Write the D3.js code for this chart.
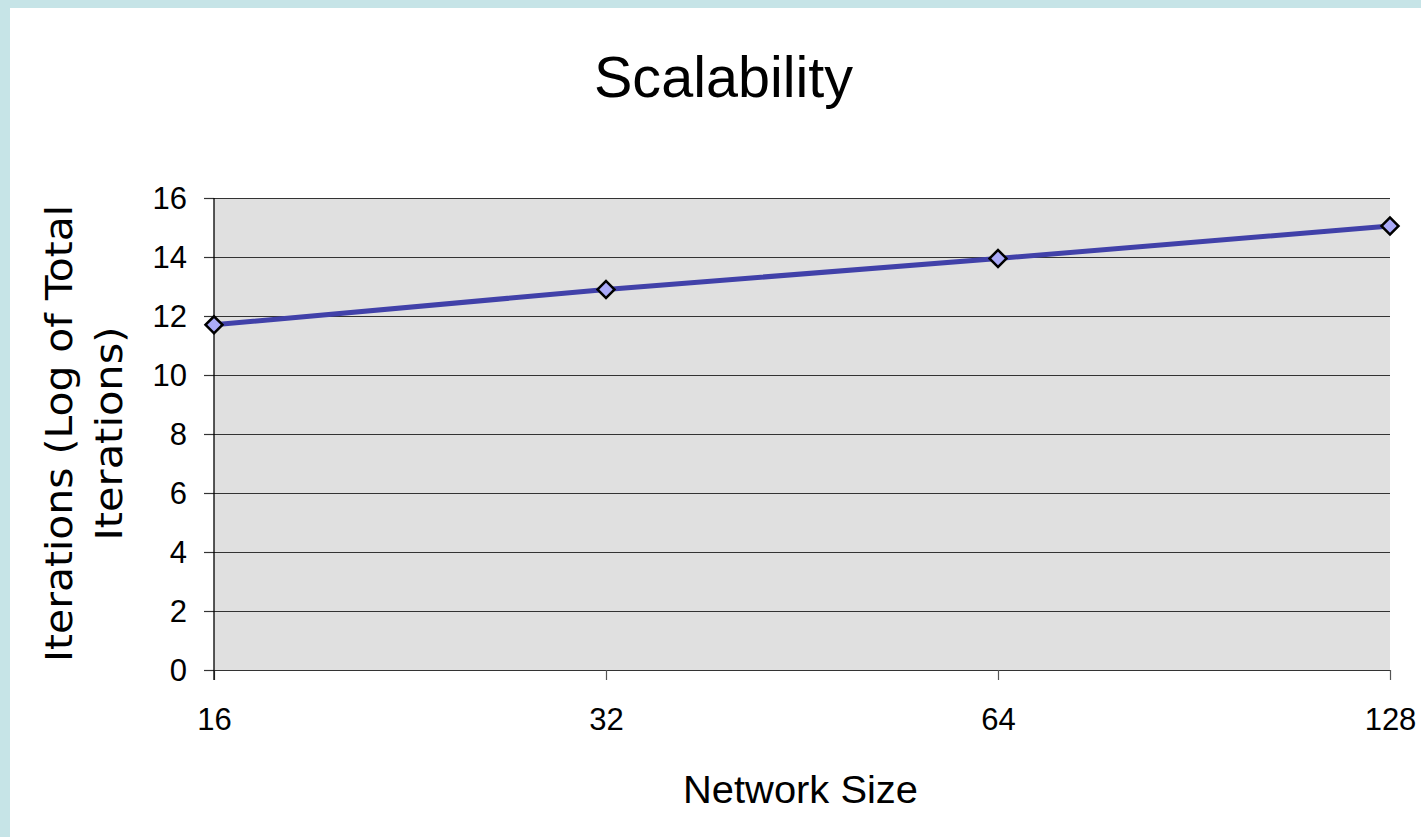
<!DOCTYPE html>
<html>
<head>
<meta charset="utf-8">
<script src="https://cdn.jsdelivr.net/npm/d3@7"></script>
<style>
  html, body { margin: 0; padding: 0; background: #ffffff; }
  svg { display: block; }
</style>
</head>
<body>
<script>
// ---- data ----
const categories = ["16", "32", "64", "128"];
const iterations = [11.7, 12.9, 13.95, 15.05];
const yTicks = [0, 2, 4, 6, 8, 10, 12, 14, 16];
const titleText = "Scalability";
const xLabelText = "Network Size";
const yLabelLines = ["Iterations (Log of Total", "Iterations)"];

(function () {
const W = 1421, H = 837;
const svg = d3.select("body").append("svg").attr("width", W).attr("height", H);

// frame band
svg.append("rect").attr("x", 0).attr("y", 0).attr("width", W).attr("height", H).attr("fill", "#c6e4e7");
svg.append("rect").attr("x", 10).attr("y", 8).attr("width", W - 10).attr("height", H - 8).attr("fill", "#ffffff");

const pLeft = 214, pRight = 1390, pTop = 198, pBottom = 670;
const x = d3.scalePoint().domain(categories).range([pLeft, pRight]);
const y = d3.scaleLinear().domain([0, 16]).range([pBottom, pTop]);

// plot background
svg.append("rect").attr("x", pLeft).attr("y", pTop).attr("width", pRight - pLeft).attr("height", pBottom - pTop)
  .attr("fill", "#e0e0e0");

// y axis ticks, labels and gridlines
const gyy = svg.append("g").attr("transform", `translate(${pLeft},0)`)
  .call(d3.axisLeft(y).tickValues(yTicks).tickSize(10).tickFormat(d3.format("d")).tickPadding(17));
gyy.select(".domain").remove();
gyy.selectAll(".tick line").attr("stroke", "#333").attr("stroke-width", 1.2);
gyy.selectAll(".tick").append("line").attr("x1", 0).attr("x2", pRight - pLeft)
  .attr("stroke", "#333").attr("stroke-width", 1.2);
gyy.selectAll(".tick text").attr("font-family", "'Liberation Sans', Arial, sans-serif")
  .attr("font-size", 31).attr("fill", "#000").attr("dy", "0.35em");

// x axis ticks
const gx = svg.append("g").attr("transform", `translate(0,${pBottom})`)
  .call(d3.axisBottom(x).tickSize(10).tickPadding(28));
gx.select(".domain").remove();
gx.selectAll(".tick line").attr("stroke", "#555").attr("stroke-width", 1.2);
gx.selectAll(".tick text").attr("font-family", "'Liberation Sans', Arial, sans-serif")
  .attr("font-size", 31).attr("fill", "#000").attr("dy", "0.71em");

// left axis line
svg.append("line").attr("x1", pLeft).attr("x2", pLeft).attr("y1", pTop).attr("y2", pBottom + 10)
  .attr("stroke", "#000").attr("stroke-width", 1.3);

// series line
const line = d3.line().x((d, i) => x(categories[i])).y(d => y(d));
svg.append("path").datum(iterations).attr("d", line)
  .attr("fill", "none").attr("stroke", "#4141a9").attr("stroke-width", 5).attr("stroke-linejoin", "round");

// markers
svg.selectAll(".pt").data(iterations).enter().append("path")
  .attr("class", "pt")
  .attr("transform", (d, i) => `translate(${x(categories[i])},${y(d)}) rotate(45)`)
  .attr("d", "M-6,-6H6V6H-6Z")
  .attr("fill", "#aaaaf8").attr("stroke", "#000").attr("stroke-width", 2.5);

// title
svg.append("text").attr("x", 723.5).attr("y", 97).attr("text-anchor", "middle")
  .attr("font-family", "'Liberation Sans', Arial, sans-serif").attr("font-size", 58)
  .attr("textLength", 259).attr("lengthAdjust", "spacingAndGlyphs")
  .text(titleText);

// x label
svg.append("text").attr("x", 800.5).attr("y", 803).attr("text-anchor", "middle")
  .attr("font-family", "'Liberation Sans', Arial, sans-serif").attr("font-size", 39)
  .attr("textLength", 235).attr("lengthAdjust", "spacingAndGlyphs")
  .text(xLabelText);

// y label (two lines)
const yl = [{t: yLabelLines[0], bx: 72, len: 457}, {t: yLabelLines[1], bx: 122, len: 214}];
yl.forEach(o => {
  svg.append("text")
    .attr("transform", `translate(${o.bx},433.5) rotate(-90)`)
    .attr("text-anchor", "middle")
    .attr("font-family", "'DejaVu Sans', sans-serif").attr("font-size", 38)
    .attr("textLength", o.len).attr("lengthAdjust", "spacingAndGlyphs")
    .text(o.t);
});
})();
</script>
</body>
</html>
